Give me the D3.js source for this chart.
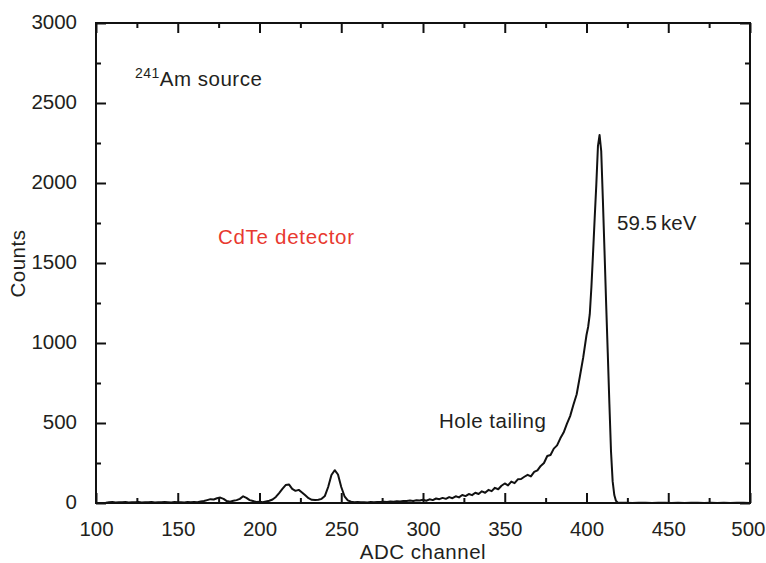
<!DOCTYPE html>
<html>
<head>
<meta charset="utf-8">
<script src="https://cdn.jsdelivr.net/npm/d3@7"></script>
<style>
  html, body { margin: 0; padding: 0; background: #fff; }
  svg { display: block; font-family: "Liberation Sans", Arial, Helvetica, sans-serif; }
  .tick text { fill: #231f20; }
</style>
</head>
<body>
<svg id="chart" width="766" height="563"></svg>
<script>
// 241Am spectrum measured with a CdTe detector: counts per ADC channel
const channels = [
  106,108,110,112,114,116,118,120,122,124,126,128,130,132,134,136,138,140,142,144,
  146,148,150,152,154,156,158,160,162,164,
  166,168,170,172,174,176,178,180,182,184,186,188,190,192,194,196,198,200,
  202,204,206,208,210,212,214,216,218,220,222,224,226,228,230,232,234,236,238,240,
  242,244,246,248,250,252,254,256,258,260,
  262,264,266,268,270,272,274,276,278,280,282,284,286,288,290,292,294,296,298,300,
  302,304,306,308,310,312,314,316,318,320,322,324,326,328,330,332,334,336,338,340,
  342,344,346,348,350,352,354,356,358,360,362,364,366,368,370,372,374,376,378,380,
  382,384,386,388,390,392,394,396,398,400,
  401,402,403,404,405,406,407,408,409,410,411,412,413,414,415,416,417,418,419,420,
  424,428,432,436,440,444,448,452,456,460,464,468,472,476,480,484,488,492,496,500
];
const counts = [
  2,4,6,3,5,4,6,3,5,4,6,3,5,4,7,3,5,4,6,5,
  3,6,4,5,3,6,4,7,5,9,
  12,18,24,22,30,34,26,12,8,14,18,26,42,32,18,12,6,8,
  5,10,14,22,38,62,88,112,116,88,76,82,66,48,30,20,18,20,26,44,
  100,175,205,178,100,42,16,8,5,6,
  4,5,3,6,5,7,6,8,7,10,8,11,9,13,12,15,13,17,16,20,
  14,23,18,28,24,32,26,37,30,42,35,50,43,56,49,64,56,73,64,82,
  74,95,86,108,122,110,134,124,148,150,164,176,166,194,204,232,250,294,300,340,
  360,404,440,494,543,614,680,794,910,1050,
  1100,1180,1350,1560,1780,1990,2230,2300,2200,1900,1580,1250,940,620,320,135,50,14,4,1,
  1,0,2,1,0,1,2,0,1,0,1,2,0,1,0,1,0,2,1,0
];

const xMajor = [100,150,200,250,300,350,400,450,500];
const xMinor = [125,175,225,275,325,375,425,475];
const yMajor = [0,500,1000,1500,2000,2500,3000];
const yMinor = [250,750,1250,1750,2250,2750];

const spectrum = channels.map((c, i) => ({ ch: c, n: counts[i] }));

const svg = d3.select("#chart");
const W = 766, H = 563;
const margin = { top: 23, right: 16, bottom: 60, left: 96 };
const iw = W - margin.left - margin.right;
const ih = H - margin.top - margin.bottom;

const x = d3.scaleLinear().domain([100, 500]).range([0, iw]);
const y = d3.scaleLinear().domain([0, 3000]).range([ih, 0]);

const g = svg.append("g").attr("transform", `translate(${margin.left},${margin.top})`);

const textColor = "#231f20";
const fs = 20.5;
const ls = "0.5px";

// inward ticks on all four sides
function styleAxis(sel) {
  sel.select(".domain").remove();
  sel.selectAll(".tick line").attr("stroke", "#111").attr("stroke-width", 2);
}

g.append("g").attr("transform", `translate(0,${ih})`)
  .call(d3.axisBottom(x).tickValues(xMajor).tickSizeInner(-10).tickSizeOuter(0).tickPadding(18).tickFormat(d3.format("d")))
  .call(styleAxis)
  .call(s => s.selectAll("text").attr("font-size", fs).attr("fill", textColor))
  .call(s => s.selectAll(".tick").filter(d => d === 500).select("text")
    .attr("text-anchor", "end").attr("x", 15));
g.append("g").attr("transform", `translate(0,${ih})`)
  .call(d3.axisBottom(x).tickValues(xMinor).tickSizeInner(-5).tickSizeOuter(0).tickFormat(""))
  .call(styleAxis);
g.append("g")
  .call(d3.axisTop(x).tickValues(xMajor).tickSizeInner(-10).tickSizeOuter(0).tickFormat(""))
  .call(styleAxis);
g.append("g")
  .call(d3.axisTop(x).tickValues(xMinor).tickSizeInner(-5).tickSizeOuter(0).tickFormat(""))
  .call(styleAxis);

g.append("g")
  .call(d3.axisLeft(y).tickValues(yMajor).tickSizeInner(-10).tickSizeOuter(0).tickPadding(19).tickFormat(d3.format("d")))
  .call(styleAxis)
  .call(s => s.selectAll("text").attr("font-size", fs).attr("fill", textColor).attr("dy", "0.28em"));
g.append("g")
  .call(d3.axisLeft(y).tickValues(yMinor).tickSizeInner(-5).tickSizeOuter(0).tickFormat(""))
  .call(styleAxis);
g.append("g").attr("transform", `translate(${iw},0)`)
  .call(d3.axisRight(y).tickValues(yMajor).tickSizeInner(-10).tickSizeOuter(0).tickFormat(""))
  .call(styleAxis);
g.append("g").attr("transform", `translate(${iw},0)`)
  .call(d3.axisRight(y).tickValues(yMinor).tickSizeInner(-5).tickSizeOuter(0).tickFormat(""))
  .call(styleAxis);

// spectrum trace
const line = d3.line().x(d => x(d.ch)).y(d => y(d.n)).curve(d3.curveLinear);
g.append("path").datum(spectrum)
  .attr("d", line)
  .attr("fill", "none")
  .attr("stroke", "#111")
  .attr("stroke-width", 2)
  .attr("stroke-linejoin", "round");

// plot frame
g.append("rect").attr("x", 0).attr("y", 0).attr("width", iw).attr("height", ih)
  .attr("fill", "none").attr("stroke", "#111").attr("stroke-width", 2);

// axis titles
svg.append("text").attr("x", margin.left + iw / 2).attr("y", 559)
  .attr("text-anchor", "middle").attr("font-size", fs).attr("fill", textColor)
  .attr("letter-spacing", ls).text("ADC channel");
svg.append("text").attr("transform", "translate(25,263.5) rotate(-90)")
  .attr("text-anchor", "middle").attr("font-size", fs).attr("fill", textColor)
  .attr("letter-spacing", ls).text("Counts");

// annotations
const src = svg.append("text").attr("x", 135).attr("y", 86).attr("font-size", fs)
  .attr("fill", textColor).attr("letter-spacing", ls);
src.append("tspan").attr("font-size", 14).attr("dy", -8).text("241");
src.append("tspan").attr("dy", 8).text("Am source");

svg.append("text").attr("x", 218).attr("y", 244).attr("font-size", fs).attr("fill", "#e8392f")
  .attr("letter-spacing", "0.7px").text("CdTe detector");
svg.append("text").attr("x", 617).attr("y", 230).attr("font-size", fs).attr("fill", textColor)
  .text("59.5\u2009keV");
svg.append("text").attr("x", 439).attr("y", 428).attr("font-size", fs).attr("fill", textColor)
  .attr("letter-spacing", ls).text("Hole tailing");
</script>
</body>
</html>
